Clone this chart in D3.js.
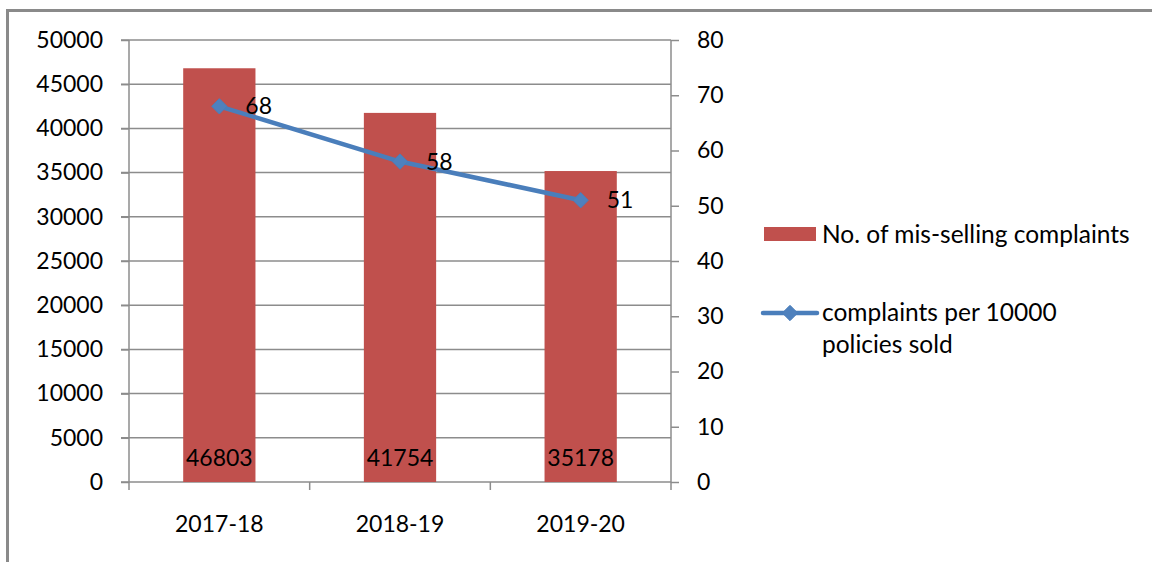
<!DOCTYPE html>
<html>
<head>
<meta charset="utf-8">
<script src="https://cdn.jsdelivr.net/npm/d3@7"></script>
<style>
  body { margin: 0; background: #fff; }
  svg text { font-family: Lato, "Liberation Sans", sans-serif; fill: #000; }
</style>
</head>
<body>
<div id="chart"></div>
<script>
const years = ["2017-18", "2018-19", "2019-20"];
const complaints = [46803, 41754, 35178];
const perTenThousand = [68, 58, 51];
const leftTicks = [0, 5000, 10000, 15000, 20000, 25000, 30000, 35000, 40000, 45000, 50000];
const rightTicks = [0, 10, 20, 30, 40, 50, 60, 70, 80];

const width = 1152;
const height = 562;
const margin = { top: 40, left: 129, right: 671, bottom: 482 };
const fs = 23;

const svg = d3.select("#chart")
  .append("svg")
  .attr("width", width)
  .attr("height", height);

// outer frame
svg.append("rect")
  .attr("x", 7.5).attr("y", 10.5)
  .attr("width", 1160).attr("height", 600)
  .attr("fill", "none")
  .attr("stroke", "#8a8a8a")
  .attr("stroke-width", 3);

const x = d3.scaleBand()
  .domain(years)
  .range([margin.left, margin.right])
  .paddingInner(0.6)
  .paddingOuter(0.3);

const xBand = d3.scaleBand().domain(years).range([margin.left, margin.right]);

const yLeft = d3.scaleLinear().domain([0, 50000]).range([margin.bottom, margin.top]);
const yRight = d3.scaleLinear().domain([0, 80]).range([margin.bottom, margin.top]);

const gray = "#8c8c8c";

// gridlines
svg.append("g")
  .selectAll("line")
  .data(leftTicks)
  .join("line")
  .attr("x1", margin.left - 8)
  .attr("x2", margin.right)
  .attr("y1", d => yLeft(d))
  .attr("y2", d => yLeft(d))
  .attr("stroke", gray)
  .attr("stroke-width", 1.5);

// left axis
const leftAxis = svg.append("g")
  .attr("transform", `translate(${margin.left},0)`)
  .call(d3.axisLeft(yLeft).tickValues(leftTicks).tickSize(8).tickPadding(18).tickFormat(d3.format("d")));
leftAxis.select(".domain").remove();
leftAxis.selectAll("line").attr("stroke", gray).attr("stroke-width", 1.5);
leftAxis.selectAll("text").attr("font-size", fs);

svg.append("line")
  .attr("x1", margin.left).attr("x2", margin.left)
  .attr("y1", margin.top).attr("y2", margin.bottom + 8)
  .attr("stroke", gray).attr("stroke-width", 1.5);

// right axis
const rightAxis = svg.append("g")
  .attr("transform", `translate(${margin.right},0)`)
  .call(d3.axisRight(yRight).tickValues(rightTicks).tickSize(8).tickPadding(18));
rightAxis.select(".domain").remove();
rightAxis.selectAll("line").attr("stroke", gray).attr("stroke-width", 1.5);
rightAxis.selectAll("text").attr("font-size", fs);

svg.append("line")
  .attr("x1", margin.right).attr("x2", margin.right)
  .attr("y1", margin.top).attr("y2", margin.bottom + 8)
  .attr("stroke", gray).attr("stroke-width", 1.5);

// category ticks
svg.append("g")
  .selectAll("line")
  .data(years.slice(1))
  .join("line")
  .attr("x1", d => xBand(d))
  .attr("x2", d => xBand(d))
  .attr("y1", margin.bottom)
  .attr("y2", margin.bottom + 8)
  .attr("stroke", gray)
  .attr("stroke-width", 1.5);

svg.append("g")
  .selectAll("text")
  .data(years)
  .join("text")
  .attr("x", d => xBand(d) + xBand.bandwidth() / 2)
  .attr("y", 532)
  .attr("text-anchor", "middle")
  .attr("font-size", fs)
  .text(d => d);

// bars
svg.append("g")
  .selectAll("rect")
  .data(complaints)
  .join("rect")
  .attr("x", (d, i) => x(years[i]))
  .attr("y", d => yLeft(d))
  .attr("width", x.bandwidth())
  .attr("height", d => yLeft(0) - yLeft(d))
  .attr("fill", "#C0504D");

svg.append("g")
  .selectAll("text")
  .data(complaints)
  .join("text")
  .attr("x", (d, i) => x(years[i]) + x.bandwidth() / 2)
  .attr("y", 466)
  .attr("text-anchor", "middle")
  .attr("font-size", fs)
  .text(d => d);

// line
const cx = i => xBand(years[i]) + xBand.bandwidth() / 2;

const line = d3.line()
  .x((d, i) => cx(i))
  .y(d => yRight(d));

svg.append("path")
  .datum(perTenThousand)
  .attr("d", line)
  .attr("fill", "none")
  .attr("stroke", "#4A7EBB")
  .attr("stroke-width", 4.5)
  .attr("stroke-linejoin", "round");

const diamond = d3.symbol().type(d3.symbolDiamond2).size(150);

svg.append("g")
  .selectAll("path")
  .data(perTenThousand)
  .join("path")
  .attr("d", diamond)
  .attr("transform", (d, i) => `translate(${cx(i)},${yRight(d)})`)
  .attr("fill", "#4F81BD")
  .attr("stroke", "#4A7EBB")
  .attr("stroke-width", 1);

svg.append("g")
  .selectAll("text")
  .data(perTenThousand)
  .join("text")
  .attr("x", (d, i) => cx(i) + 26)
  .attr("y", d => yRight(d) + 8)
  .attr("font-size", fs)
  .text(d => d);

// legend
const lfs = 24.5;
const legend = svg.append("g");
legend.append("rect")
  .attr("x", 764).attr("y", 227)
  .attr("width", 52).attr("height", 14)
  .attr("fill", "#C0504D");
legend.append("text")
  .attr("x", 822).attr("y", 243)
  .attr("font-size", lfs)
  .text("No. of mis-selling complaints");

legend.append("line")
  .attr("x1", 763).attr("x2", 817)
  .attr("y1", 313).attr("y2", 313)
  .attr("stroke", "#4A7EBB")
  .attr("stroke-width", 4.5)
  .attr("stroke-linecap", "round");
legend.append("path")
  .attr("d", diamond)
  .attr("transform", "translate(790,313)")
  .attr("fill", "#4F81BD")
  .attr("stroke", "#4A7EBB");
legend.append("text")
  .attr("x", 822).attr("y", 321)
  .attr("font-size", lfs)
  .text("complaints per 10000");
legend.append("text")
  .attr("x", 822).attr("y", 353)
  .attr("font-size", lfs)
  .text("policies sold");
</script>
</body>
</html>
